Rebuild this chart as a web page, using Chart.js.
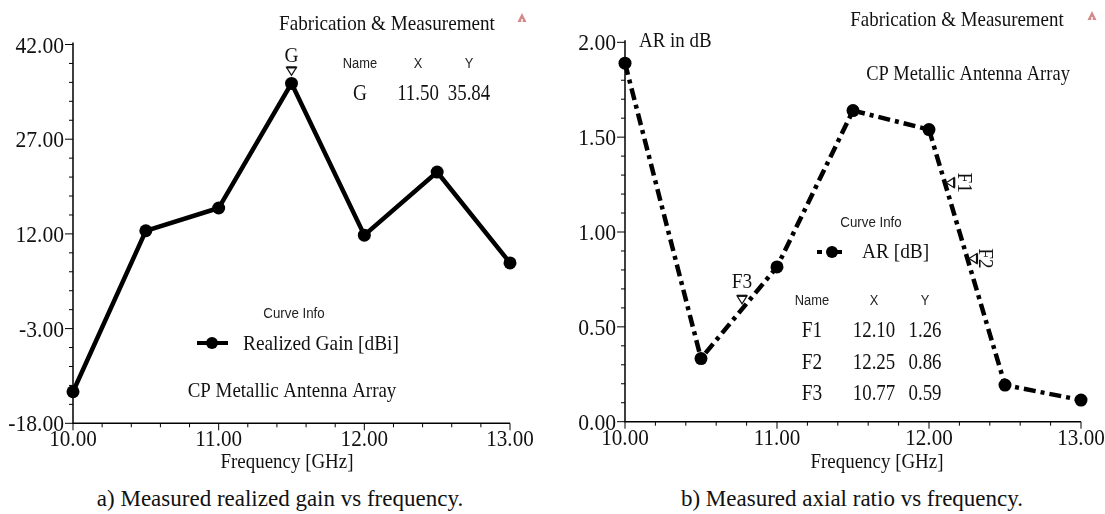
<!DOCTYPE html>
<html lang="en">
<head>
  <meta charset="UTF-8" />
  <title>Realized gain and axial ratio</title>
  <script src="https://cdn.jsdelivr.net/npm/chart.js"></script>
  <style>
    body { margin: 0; background: #fff; }
    #wrap { position: relative; width: 1105px; height: 514px; overflow: hidden; background: #fff; }
    canvas { position: absolute; top: 0; }
    .cap { position: absolute; top: 486px; font: 23px "Liberation Serif", serif; color: #111; white-space: nowrap; transform: translateX(-50%); }
  </style>
</head>
<body>
<div id="wrap">
  <canvas id="gainChart" style="left:0"></canvas>
  <canvas id="arChart" style="left:553px"></canvas>
  <div class="cap" style="left:280px">a) Measured realized gain vs frequency.</div>
  <div class="cap" style="left:852px">b) Measured axial ratio vs frequency.</div>
</div>

<script>
  // data
  const freqs = [10.0, 10.5, 11.0, 11.5, 12.0, 12.5, 13.0];
  const gainValues = [-13.0, 12.5, 16.1, 35.84, 11.8, 21.8, 7.4];
  const arValues = [1.89, 0.333, 0.816, 1.64, 1.54, 0.193, 0.114];

  const freqTicks = [10, 11, 12, 13];
  const gainTicks = [-18, -3, 12, 27, 42];
  const arTicks = [0, 0.5, 1, 1.5, 2];

  const gainMarkerNames = ["G"];
  const gainMarkerX = [11.50];
  const gainMarkerY = [35.84];
  const arMarkerNames = ["F1", "F2", "F3"];
  const arMarkerX = [12.10, 12.25, 10.77];
  const arMarkerY = [1.26, 0.86, 0.59];

  const SERIF = '"Liberation Serif", "Times New Roman", serif';
  const SANS = '"Liberation Sans", Arial, sans-serif';

  function txt(ctx, s, x, y, size, opt = {}) {
    ctx.save();
    ctx.font = size + "px " + (opt.sans ? SANS : SERIF);
    ctx.fillStyle = opt.color || "#111";
    ctx.textAlign = opt.align || "left";
    ctx.textBaseline = opt.base || "alphabetic";
    ctx.translate(x, y);
    if (opt.rot) ctx.rotate(opt.rot);
    ctx.scale(opt.sx || 0.85, 1);
    ctx.fillText(s, 0, 0);
    ctx.restore();
  }

  // axes, tick labels and the HFSS style annotations
  const decor = {
    id: "decor",
    afterDraw(chart, args, o) {
      const ctx = chart.ctx;
      const xs = chart.scales.x, ys = chart.scales.y;
      const a = chart.chartArea;
      ctx.save();
      ctx.strokeStyle = "#000";
      ctx.lineWidth = 1.5;
      ctx.beginPath();
      ctx.moveTo(a.left, a.top - 2);
      ctx.lineTo(a.left, a.bottom);
      ctx.lineTo(a.right, a.bottom);
      ctx.stroke();

      // minor ticks
      ctx.lineWidth = 1;
      const yTicks = o.yTicks;
      const yMinor = (yTicks[1] - yTicks[0]) / 5;
      for (let i = 0; i <= (yTicks.length - 1) * 5; i++) {
        const py = ys.getPixelForValue(yTicks[0] + i * yMinor);
        const len = i % 5 === 0 ? 8 : 4;
        ctx.beginPath(); ctx.moveTo(a.left - len, py); ctx.lineTo(a.left, py); ctx.stroke();
      }
      for (let i = 0; i <= (freqTicks.length - 1) * 5; i++) {
        const px = xs.getPixelForValue(freqTicks[0] + i * 0.2);
        const len = i % 5 === 0 ? 7 : 4;
        ctx.beginPath(); ctx.moveTo(px, a.bottom); ctx.lineTo(px, a.bottom + len); ctx.stroke();
      }
      ctx.restore();

      yTicks.forEach(v => txt(ctx, v.toFixed(2), a.left - 9, ys.getPixelForValue(v) + 8, 24, { align: "right", sx: 0.9 }));
      freqTicks.forEach(v => txt(ctx, v.toFixed(2), xs.getPixelForValue(v), a.bottom + 23, 24, { align: "center", sx: 0.88 }));
      txt(ctx, "Frequency [GHz]", o.xTitle[0], o.xTitle[1], 22, { align: "center", sx: 0.86 });

      (o.texts || []).forEach(t => txt(ctx, t[0], t[1], t[2], t[3], t[4]));

      // logo triangle
      ctx.save();
      ctx.fillStyle = "#d38a8a";
      const [ix, iy] = o.icon;
      ctx.beginPath(); ctx.moveTo(ix, iy - 5); ctx.lineTo(ix + 4.5, iy + 4); ctx.lineTo(ix - 4.5, iy + 4); ctx.closePath(); ctx.fill();
      ctx.fillStyle = "#f4dede";
      ctx.fillRect(ix - 1, iy + 1, 2, 3);
      ctx.restore();

      // legend
      const lg = o.legend;
      ctx.save();
      ctx.strokeStyle = "#000"; ctx.fillStyle = "#000"; ctx.lineWidth = 4;
      ctx.setLineDash(lg.dash || []);
      ctx.beginPath(); ctx.moveTo(lg.x0, lg.y); ctx.lineTo(lg.x1, lg.y); ctx.stroke();
      ctx.setLineDash([]);
      ctx.beginPath(); ctx.arc(lg.dot, lg.y, 6, 0, Math.PI * 2); ctx.fill();
      ctx.restore();

      // marker table
      const tb = o.table;
      txt(ctx, "Name", tb.cols[0], tb.head, 14, { sans: true, align: "center", sx: 0.92, color: "#222" });
      txt(ctx, "X", tb.cols[1], tb.head, 14, { sans: true, align: "center", sx: 0.92, color: "#222" });
      txt(ctx, "Y", tb.cols[2], tb.head, 14, { sans: true, align: "center", sx: 0.92, color: "#222" });
      o.mNames.forEach((n, i) => {
        const yy = tb.rows[i];
        txt(ctx, n, tb.cols[0], yy, 23, { align: "center", sx: 0.84 });
        txt(ctx, o.mX[i].toFixed(2), tb.cols[1], yy, 23, { align: "center", sx: 0.82 });
        txt(ctx, o.mY[i].toFixed(2), tb.cols[2], yy, 23, { align: "center", sx: 0.82 });
      });

      // markers on the curve
      o.mNames.forEach((n, i) => {
        const px = xs.getPixelForValue(o.mX[i]);
        const py = ys.getPixelForValue(o.mY[i]);
        const [g, lab] = o.mOff[i];
        const r = o.mRot[i];
        ctx.save();
        ctx.translate(px, py);
        ctx.rotate(r);
        ctx.strokeStyle = "#111"; ctx.fillStyle = "#fff"; ctx.lineWidth = 1.2;
        ctx.beginPath();
        ctx.moveTo(-5, -g - 8); ctx.lineTo(5, -g - 8); ctx.lineTo(0, -g); ctx.closePath();
        ctx.fill(); ctx.stroke();
        ctx.beginPath(); ctx.moveTo(-5, -g - 8); ctx.lineTo(5, -g - 8); ctx.lineWidth = 2.2; ctx.stroke();
        ctx.restore();
        txt(ctx, n, px + Math.sin(r) * lab, py - Math.cos(r) * lab, 22,
          { align: "center", base: "middle", rot: r, sx: 0.88 });
      });
    }
  };

  function fixedLayout(W, H, x0, x1, y0, y1) {
    return {
      layout: { padding: { left: 0, top: y0, right: W - x1, bottom: 0 } },
      xFit: s => { s.height = H - y1; },
      yFit: s => { s.width = x0; }
    };
  }

  function makeChart(id, W, H, box, values, yTicks, dash, decorOpts) {
    const cv = document.getElementById(id);
    cv.width = W; cv.height = H;
    cv.style.width = W + "px"; cv.style.height = H + "px";
    const L = fixedLayout(W, H, box[0], box[1], box[2], box[3]);
    return new Chart(cv, {
      type: "line",
      data: {
        datasets: [{
          data: freqs.map((f, i) => ({ x: f, y: values[i] })),
          borderColor: "#000",
          borderWidth: 4.5,
          borderDash: dash,
          pointRadius: 6.5,
          pointBorderWidth: 0,
          pointBackgroundColor: "#000",
          tension: 0,
          clip: false
        }]
      },
      options: {
        responsive: false,
        animation: false,
        devicePixelRatio: 1,
        layout: L.layout,
        plugins: { legend: { display: false }, tooltip: { enabled: false }, decor: decorOpts },
        scales: {
          x: {
            type: "linear", min: freqTicks[0], max: freqTicks[freqTicks.length - 1],
            ticks: { display: false }, grid: { display: false }, border: { display: false },
            afterFit: L.xFit
          },
          y: {
            min: yTicks[0], max: yTicks[yTicks.length - 1],
            ticks: { display: false }, grid: { display: false }, border: { display: false },
            afterFit: L.yFit
          }
        }
      },
      plugins: [decor]
    });
  }

  makeChart("gainChart", 552, 480, [73, 510, 44.5, 423.3], gainValues, gainTicks, [], {
    yTicks: gainTicks,
    xTitle: [287, 468],
    icon: [522, 18],
    texts: [
      ["Fabrication & Measurement", 387, 30, 22, { align: "center", sx: 0.87 }],
      ["Curve Info", 294, 318, 14, { sans: true, align: "center", sx: 0.95, color: "#222" }],
      ["Realized Gain [dBi]", 243, 350, 22, { sx: 0.88 }],
      ["CP Metallic Antenna Array", 292, 397, 22, { align: "center", sx: 0.86 }]
    ],
    legend: { x0: 197, x1: 228, dot: 212, y: 343 },
    table: { cols: [360, 418, 469], head: 68, rows: [100] },
    mNames: gainMarkerNames, mX: gainMarkerX, mY: gainMarkerY,
    mRot: [0], mOff: [[8, 27]]
  });

  makeChart("arChart", 552, 480, [72, 528, 42.3, 421.7], arValues, arTicks, [12, 5, 4, 5], {
    yTicks: arTicks,
    xTitle: [877 - 553, 468],
    icon: [1092 - 553, 16],
    texts: [
      ["Fabrication & Measurement", 957 - 553, 26, 22, { align: "center", sx: 0.86 }],
      ["AR in dB", 639 - 553, 47, 22, { sx: 0.86 }],
      ["CP Metallic Antenna Array", 968 - 553, 80, 22, { align: "center", sx: 0.84 }],
      ["Curve Info", 871 - 553, 227, 14, { sans: true, align: "center", sx: 0.95, color: "#222" }],
      ["AR [dB]", 862 - 553, 258, 22, { sx: 0.88 }]
    ],
    legend: { x0: 817 - 553, x1: 845 - 553, dot: 832 - 553, y: 252, dash: [5, 5] },
    table: { cols: [812 - 553, 874 - 553, 925 - 553], head: 305, rows: [337, 369, 400] },
    mNames: arMarkerNames, mX: arMarkerX, mY: arMarkerY,
    mRot: [Math.PI / 2, Math.PI / 2, 0], mOff: [[2, 20], [2, 18], [6, 28]]
  });
</script>
</body>
</html>
